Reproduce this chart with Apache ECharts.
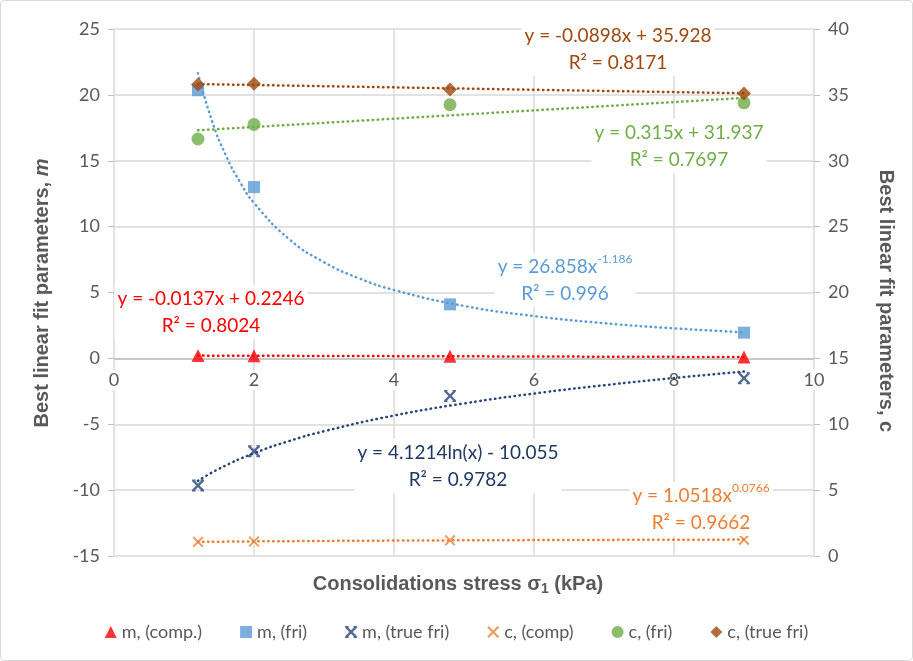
<!DOCTYPE html>
<html>
<head>
<meta charset="utf-8">
<script src="https://cdn.jsdelivr.net/npm/echarts@6/dist/echarts.min.js"></script>
<style>
  html, body { margin: 0; padding: 0; background: #fff; }
  #main { width: 911px; height: 659px; border: 1px solid #d9d9d9; border-radius: 4px; }
</style>
</head>
<body>
<div id="main"></div>
<script>
// consolidation stress (kPa)
var stress = [1.2, 2, 4.8, 9];

// measured parameters
var mComp = [0.21, 0.2, 0.16, 0.1];
var mFri = [20.35, 13.0, 4.1, 1.95];
var mTrueFri = [-9.65, -7.05, -2.85, -1.5];
var cComp = [1.07, 1.1, 1.19, 1.24];
var cFri = [31.65, 32.75, 34.25, 34.4];
var cTrueFri = [35.78, 35.84, 35.4, 35.1];

// dotted trend lines
var trendLinX = [1.2, 9];
var mCompTrend = [0.21, 0.1];
var cFriTrend = [32.31, 34.77];
var cTrueFriTrend = [35.82, 35.12];
var powX = [1.2, 1.4, 1.6, 1.8, 2, 2.5, 3, 3.5, 4, 5, 6, 7, 8, 9];
var mFriTrend = [21.64, 18.02, 15.38, 13.38, 11.8, 9.06, 7.3, 6.08, 5.19, 3.98, 3.21, 2.67, 2.28, 1.98];
var logX = [1.2, 1.5, 2, 2.5, 3, 4, 5, 6, 7, 8, 9];
var mTrueFriTrend = [-9.3, -8.38, -7.2, -6.28, -5.53, -4.34, -3.42, -2.67, -2.04, -1.49, -1.0];
var cCompX = [1.2, 2, 4.8, 9];
var cCompTrend = [1.067, 1.109, 1.186, 1.245];

var leftTicks = [-15, 25, 5];
var rightTicks = [0, 40, 5];
var xTicks = [0, 10, 2];

var FONT = 'Lato';
var TITLEFONT = 'Liberation Sans';
var GREY = '#595959';

function pairs(xs, ys) {
    var out = [];
    for (var i = 0; i < xs.length; i++) out.push([xs[i], ys[i]]);
    return out;
}

var xMark = 'path://M0,1.2 L1.2,0 L5,3.8 L8.8,0 L10,1.2 L6.2,5 L10,8.8 L8.8,10 L5,6.2 L1.2,10 L0,8.8 L3.8,5 Z';
var xStar = 'path://M0,1.4 L1.4,0 L5,3.6 L8.6,0 L10,1.4 L6.4,5 L10,8.6 L8.6,10 L5,6.4 L1.4,10 L0,8.6 L3.6,5 Z M0,0 L3,0 L3,1 L0,1 Z M7,0 L10,0 L10,1 L7,1 Z M0,9 L3,9 L3,10 L0,10 Z M7,9 L10,9 L10,10 L7,10 Z';

function pointSeries(name, data, color, symbol, size, axis) {
    return {
        name: name, type: 'scatter', yAxisIndex: axis,
        data: pairs(stress, data),
        symbol: symbol, symbolSize: size,
        itemStyle: { color: color },
        z: 5
    };
}
function trendSeries(xs, ys, color, axis, smooth) {
    return {
        type: 'line', yAxisIndex: axis,
        data: pairs(xs, ys),
        showSymbol: false, symbol: 'none', smooth: smooth,
        lineStyle: { color: color, width: 2.5, type: [0.5, 4.5], cap: 'round' },
        silent: true, z: 3
    };
}

var myChart = echarts.init(document.getElementById('main'));

function eq(x, y, color, text) {
    return {
        type: 'text', x: x, y: y, z: 10,
        style: {
            text: text, fill: color, fontFamily: FONT, fontSize: 19, align: 'center', lineHeight: 27,
            backgroundColor: '#fff', padding: [0, 3],
            rich: { sup: { fill: color, fontFamily: FONT, fontSize: 12, verticalAlign: 'top', lineHeight: 20 } }
        }
    };
}
function axisName(x, y, rot, text) {
    return {
        type: 'text', x: x, y: y, rotation: rot, z: 10,
        style: {
            text: text, fill: GREY, fontFamily: TITLEFONT, fontSize: 20, fontWeight: 'bold',
            align: 'center', verticalAlign: 'middle',
            rich: {
                i: { fill: GREY, fontFamily: TITLEFONT, fontSize: 20, fontWeight: 'bold', fontStyle: 'italic' },
                sub: { fill: GREY, fontFamily: TITLEFONT, fontSize: 14, fontWeight: 'bold', verticalAlign: 'bottom', padding: [10, 0, 0, 0] }
            }
        }
    };
}

option = {
    animation: false,
    textStyle: { fontFamily: FONT },
    legend: {
        bottom: 14, left: 'center', itemGap: 38, itemWidth: 12, itemHeight: 12,
        textStyle: { fontFamily: FONT, fontSize: 18, color: GREY },
        data: ['m, (comp.)', 'm, (fri)', 'm, (true fri)', 'c, (comp)', 'c, (fri)', 'c, (true fri)']
    },
    grid: { left: 113, right: 98, top: 28, bottom: 104 },
    xAxis: {
        type: 'value', min: xTicks[0], max: xTicks[1], interval: xTicks[2],
        axisLine: { onZero: false, show: false },
        axisTick: { show: false },
        // labels sit under the zero line of the left axis
        axisLabel: { fontSize: 18, color: GREY, margin: -186, backgroundColor: '#fff', padding: [1, 2] },
        splitLine: { lineStyle: { color: '#d9d9d9', width: 1.5 } }
    },
    yAxis: [{
        type: 'value', min: leftTicks[0], max: leftTicks[1], interval: leftTicks[2],
        axisLine: { show: false },
        axisTick: { show: true, length: 6, lineStyle: { color: '#bfbfbf' } },
        axisLabel: { fontSize: 18, color: GREY, margin: 14 },
        splitLine: { lineStyle: { color: '#d9d9d9', width: 1.5 } }
    }, {
        type: 'value', min: rightTicks[0], max: rightTicks[1], interval: rightTicks[2],
        position: 'right',
        axisLine: { show: false },
        axisTick: { show: true, length: 6, lineStyle: { color: '#bfbfbf' } },
        axisLabel: { fontSize: 18, color: GREY, margin: 14 },
        splitLine: { show: false }
    }],
    graphic: [
        axisName(41, 292, Math.PI / 2, 'Best linear fit parameters, {i|m}'),
        axisName(885, 300, -Math.PI / 2, 'Best linear fit parameters, c'),
        axisName(457, 583, 0, 'Consolidations stress σ{sub|1} (kPa)'),
        eq(617, 21, '#9E480E', 'y = -0.0898x + 35.928\nR² = 0.8171'),
        eq(678, 118, '#70AD47', 'y = 0.315x + 31.937\nR² = 0.7697'),
        eq(564, 252, '#5B9BD5', 'y = 26.858x{sup|-1.186}\nR² = 0.996'),
        eq(210, 284, '#FF0000', 'y = -0.0137x + 0.2246\nR² = 0.8024'),
        eq(457, 438, '#1F3864', 'y = 4.1214ln(x) - 10.055\nR² = 0.9782'),
        eq(700, 481, '#ED7D31', 'y = 1.0518x{sup|0.0766}\nR² = 0.9662')
    ],
    series: [
        {
            // darker zero line of the left axis
            type: 'line', yAxisIndex: 0, data: [], silent: true,
            markLine: {
                symbol: 'none', silent: true, label: { show: false },
                lineStyle: { color: '#bfbfbf', width: 1.5, type: 'solid' },
                data: [{ yAxis: 0 }]
            }
        },
        trendSeries(trendLinX, mCompTrend, '#FF0000', 0, false),
        trendSeries(powX, mFriTrend, '#5B9BD5', 0, true),
        trendSeries(logX, mTrueFriTrend, '#264478', 0, true),
        trendSeries(cCompX, cCompTrend, '#ED7D31', 1, true),
        trendSeries(trendLinX, cFriTrend, '#70AD47', 1, false),
        trendSeries(trendLinX, cTrueFriTrend, '#9E480E', 1, false),
        pointSeries('m, (comp.)', mComp, '#FF0000', 'triangle', 13, 0),
        pointSeries('m, (fri)', mFri, '#5B9BD5', 'rect', 12, 0),
        pointSeries('m, (true fri)', mTrueFri, '#264478', xStar, 12, 0),
        pointSeries('c, (comp)', cComp, '#ED7D31', xMark, 11, 1),
        pointSeries('c, (fri)', cFri, '#70AD47', 'circle', 13, 1),
        pointSeries('c, (true fri)', cTrueFri, '#9E480E', 'diamond', 14, 1)
    ]
};

myChart.setOption(option);
</script>
</body>
</html>
